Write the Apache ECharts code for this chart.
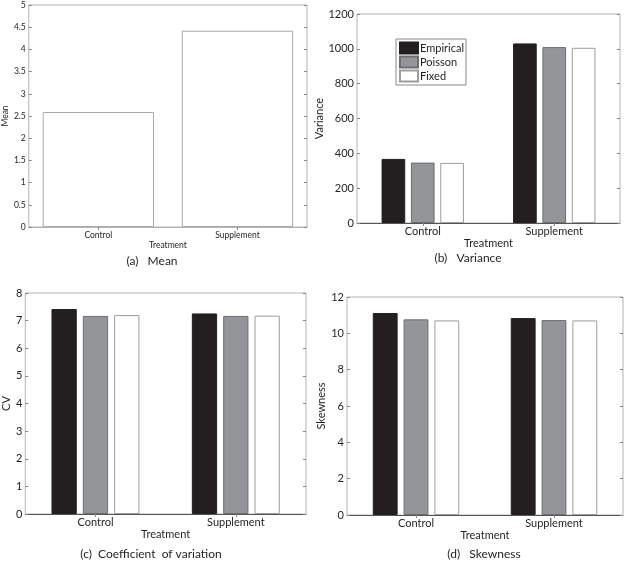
<!DOCTYPE html>
<html><head><meta charset="utf-8">
<script src="https://cdn.jsdelivr.net/npm/echarts@6/dist/echarts.min.js"></script>
<style>html,body{margin:0;padding:0;background:#fff}#c{width:626px;height:562px}</style>
</head><body><div id="c"></div>
<script>
const categories = ['Control', 'Supplement'];
const seriesNames = ['Empirical', 'Poisson', 'Fixed'];
const meanValues = [2.59, 4.42];
const varianceEmpirical = [368, 1031];
const variancePoisson = [347, 1010];
const varianceFixed = [345, 1006];
const cvEmpirical = [7.42, 7.26];
const cvPoisson = [7.17, 7.17];
const cvFixed = [7.2, 7.18];
const skewEmpirical = [11.12, 10.84];
const skewPoisson = [10.77, 10.73];
const skewFixed = [10.71, 10.71];
const yTicksMean = {min: 0, max: 5, interval: 0.5};
const yTicksVar = {min: 0, max: 1200, interval: 200};
const yTicksCV = {min: 0, max: 8, interval: 1};
const yTicksSkew = {min: 0, max: 12, interval: 2};

const FONT = 'Lato, "Open Sans", sans-serif';
const txt = '#231f20';
const frame = '#b4b4b4';
const styles = [
  {color: '#231f20', borderColor: '#231f20', borderWidth: 1},
  {color: '#939598', borderColor: '#6d6e71', borderWidth: 1},
  {color: '#ffffff', borderColor: '#9d9d9d', borderWidth: 1}
];

const panels = [
  {grid: {left: 27, top: 5, width: 280, height: 222}, y: yTicksMean, yName: 'Mean', small: true, axisColor: frame,
   data: [meanValues], nameGapY: 17, nameGapX: 10},
  {grid: {left: 357, top: 14, width: 263, height: 209}, y: yTicksVar, yName: 'Variance', small: false, axisColor: '#555',
   data: [varianceEmpirical, variancePoisson, varianceFixed], nameGapY: 27, nameGapX: 11},
  {grid: {left: 24, top: 293, width: 282, height: 221}, y: yTicksCV, yName: 'CV', small: false, axisColor: '#555',
   data: [cvEmpirical, cvPoisson, cvFixed], nameGapY: 7, nameGapX: 12},
  {grid: {left: 347, top: 297, width: 276, height: 218}, y: yTicksSkew, yName: 'Skewness', small: false, axisColor: '#555',
   data: [skewEmpirical, skewPoisson, skewFixed], nameGapY: 15, nameGapX: 11}
];

const grid = [], xAxis = [], yAxis = [], series = [];
panels.forEach((p, g) => {
  const fs = p.small ? 8.5 : 11;
  grid.push(Object.assign({show: true, borderColor: frame, borderWidth: 1, backgroundColor: '#fff'}, p.grid));
  xAxis.push({type: 'category', gridIndex: g, data: categories, position: 'bottom',
    axisLine: {show: true, lineStyle: {color: p.axisColor, width: 1}},
    axisTick: {show: false},
    axisLabel: {fontFamily: FONT, fontSize: fs, color: txt, margin: p.small ? 4 : 3},
    name: 'Treatment', nameLocation: 'middle', nameGap: p.nameGapX,
    nameTextStyle: {fontFamily: FONT, fontSize: p.small ? 8.5 : 11, color: txt}});
  xAxis.push({type: 'category', gridIndex: g, data: categories, position: 'top',
    axisLine: {show: false}, axisLabel: {show: false},
    axisTick: {show: true, inside: true, alignWithLabel: true, length: 3, lineStyle: {color: '#888'}}});
  yAxis.push({type: 'value', gridIndex: g, min: p.y.min, max: p.y.max, interval: p.y.interval, position: 'left',
    splitLine: {show: false}, axisLine: {show: false},
    axisTick: {show: true, inside: true, length: 3, lineStyle: {color: '#888'}},
    axisLabel: {fontFamily: FONT, fontSize: fs, color: txt, margin: 3, formatter: v => String(v)},
    name: p.yName, nameLocation: 'middle', nameGap: p.nameGapY, nameRotate: 90,
    nameTextStyle: {fontFamily: FONT, fontSize: p.small ? 8.5 : 11, color: txt}});
  yAxis.push({type: 'value', gridIndex: g, min: p.y.min, max: p.y.max, interval: p.y.interval, position: 'right',
    splitLine: {show: false}, axisLine: {show: false}, axisLabel: {show: false},
    axisTick: {show: true, inside: true, length: 3, lineStyle: {color: '#888'}}});
  if (p.data.length === 1) {
    series.push({type: 'bar', xAxisIndex: 2 * g, yAxisIndex: 2 * g, data: p.data[0], barWidth: '80%',
      itemStyle: {color: '#fff', borderColor: '#a7a9ac', borderWidth: 1}, silent: true});
  } else {
    p.data.forEach((d, i) => {
      series.push({type: 'bar', name: seriesNames[i], xAxisIndex: 2 * g, yAxisIndex: 2 * g, data: d,
        barWidth: '18%', barGap: '24%', itemStyle: styles[i], silent: true});
    });
  }
});

const captions = [
  {x: 152, y: 261, t: '(a)   Mean'},
  {x: 468, y: 258, t: '(b)   Variance'},
  {x: 151, y: 554, t: '(c)  Coefficient  of variation'},
  {x: 484, y: 554, t: '(d)   Skewness'}
];

const chart = echarts.init(document.getElementById('c'), null, {renderer: 'canvas'});
chart.setOption({
  animation: false,
  backgroundColor: '#fff',
  grid, xAxis, yAxis, series,
  legend: {data: seriesNames, left: 396, top: 39, orient: 'vertical', itemWidth: 18, itemHeight: 11, itemGap: 0,
    padding: [2, 2, 2, 3], borderColor: '#888', borderWidth: 1, backgroundColor: '#fff', icon: 'rect',
    selectedMode: false,
    textStyle: {fontFamily: FONT, fontSize: 11, color: txt, padding: [0, 0, 0, -3], lineHeight: 14}},
  graphic: captions.map(c => ({type: 'text', x: c.x, y: c.y, style: {text: c.t,
    fill: txt, font: '12px ' + FONT, textAlign: 'center', textVerticalAlign: 'middle'}}))
});
</script></body></html>
